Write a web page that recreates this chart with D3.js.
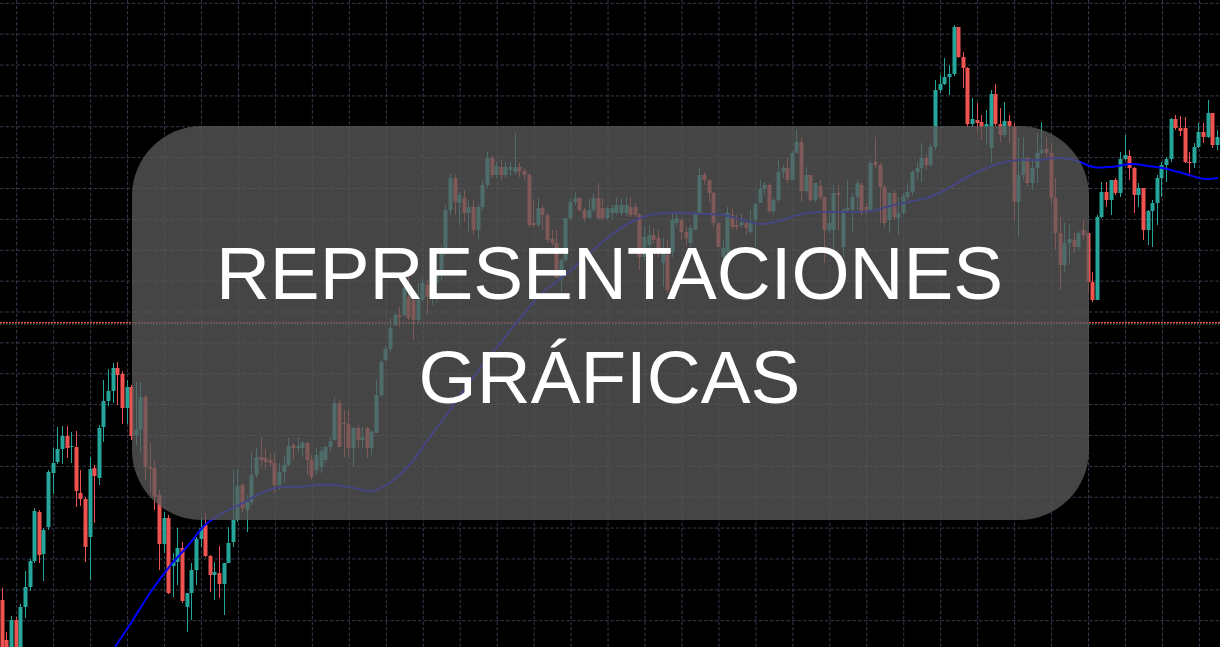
<!DOCTYPE html>
<html><head><meta charset="utf-8">
<script src="https://cdn.jsdelivr.net/npm/d3@7"></script>
<style>html,body{margin:0;padding:0;background:#000;overflow:hidden}</style>
</head><body><svg id="c" width="1220" height="647"></svg>
<script>
const openP = [
12400,12360,12348,12380,12352,12393,12413,12439,12488,12446,
12473,12527,12538,12551,12564,12553,12553,12507,12501,12463,
12532,12522,12573,12599,12609,12632,12626,12592,12613,12565,
12570,12603,12533,12532,12505,12456,12482,12434,12438,12452,
12393,12407,12430,12461,12475,12444,12425,12427,12416,12437,
12458,12480,12515,12490,12498,12525,12543,12542,12540,12537,
12515,12528,12535,12555,12552,12552,12557,12540,12530,12533,
12540,12553,12560,12597,12577,12576,12552,12572,12560,12572,
12552,12567,12605,12640,12651,12675,12685,12685,12703,12700,
12680,12700,12715,12703,12717,12725,12748,12790,12822,12797,
12802,12787,12793,12770,12793,12815,12842,12825,12833,12825,
12830,12828,12833,12829,12825,12777,12775,12792,12785,12761,
12757,12722,12740,12782,12798,12802,12790,12782,12790,12802,
12792,12782,12787,12787,12787,12787,12793,12793,12785,12743,
12755,12765,12762,12737,12745,12748,12777,12780,12768,12757,
12770,12787,12825,12820,12807,12777,12743,12748,12785,12775,
12775,12777,12768,12780,12797,12811,12815,12789,12800,12828,
12832,12820,12847,12858,12809,12825,12800,12814,12803,12770,
12770,12807,12753,12790,12790,12803,12815,12793,12790,12838,
12835,12813,12780,12807,12782,12787,12803,12808,12828,12832,
12842,12835,12853,12910,12916,12923,12926,12973,12943,12932,
12876,12880,12878,12873,12852,12906,12876,12865,12879,12873,
12798,12825,12842,12817,12832,12847,12851,12847,12802,12767,
12735,12757,12760,12753,12770,12767,12718,12700,12783,12808,
12800,12820,12807,12841,12844,12832,12805,12812,12770,12789,
12797,12822,12835,12841,12881,12872,12872,12838,12837,12853,
12868,12863,12887,12855];
const highP = [
12412,12368,12384,12383,12396,12429,12441,12492,12490,12472,
12530,12552,12573,12574,12574,12568,12569,12530,12503,12543,
12535,12575,12620,12631,12637,12638,12629,12620,12615,12618,
12618,12605,12557,12540,12510,12488,12485,12447,12472,12458,
12407,12437,12463,12483,12487,12445,12438,12454,12437,12473,
12530,12530,12517,12505,12548,12552,12563,12552,12547,12547,
12537,12544,12562,12557,12562,12559,12558,12545,12552,12553,
12554,12563,12603,12600,12590,12590,12573,12575,12573,12573,
12570,12620,12640,12654,12682,12687,12693,12722,12724,12703,
12717,12722,12720,12730,12730,12755,12795,12827,12825,12808,
12810,12800,12800,12795,12820,12848,12844,12838,12840,12838,
12838,12867,12837,12832,12827,12800,12802,12795,12787,12770,
12770,12742,12782,12802,12808,12803,12792,12802,12807,12817,
12802,12793,12795,12803,12801,12803,12803,12797,12787,12773,
12775,12772,12770,12762,12760,12787,12788,12782,12773,12775,
12788,12832,12828,12820,12808,12777,12760,12793,12792,12785,
12787,12778,12790,12797,12820,12818,12817,12802,12840,12835,
12842,12849,12870,12862,12833,12825,12817,12820,12803,12787,
12815,12815,12792,12820,12807,12820,12818,12797,12840,12863,
12837,12815,12808,12810,12803,12807,12817,12830,12838,12857,
12845,12857,12920,12925,12942,12935,12975,12973,12948,12933,
12902,12897,12885,12890,12910,12916,12892,12898,12885,12877,
12863,12863,12844,12840,12867,12878,12863,12857,12822,12783,
12777,12775,12767,12769,12780,12767,12728,12785,12818,12818,
12820,12822,12848,12865,12850,12833,12817,12812,12790,12800,
12825,12838,12843,12882,12885,12884,12883,12848,12857,12877,
12877,12900,12887,12870];
const lowP = [
12345,12344,12344,12348,12350,12382,12409,12437,12437,12419,
12470,12506,12536,12536,12542,12537,12493,12494,12438,12420,
12477,12515,12558,12594,12597,12595,12576,12576,12560,12555,
12547,12520,12507,12490,12430,12447,12406,12403,12415,12397,
12368,12380,12415,12453,12443,12408,12400,12402,12385,12437,
12453,12478,12488,12468,12495,12522,12533,12530,12533,12507,
12510,12517,12534,12540,12547,12543,12525,12520,12525,12527,
12537,12548,12559,12553,12543,12543,12533,12552,12552,12542,
12545,12567,12603,12638,12648,12674,12673,12683,12680,12660,
12678,12698,12685,12695,12697,12720,12745,12785,12785,12775,
12778,12768,12765,12760,12790,12812,12822,12822,12820,12822,
12824,12825,12823,12820,12773,12773,12773,12770,12757,12755,
12722,12708,12738,12780,12795,12788,12778,12782,12788,12780,
12780,12780,12781,12785,12784,12784,12783,12783,12730,12740,
12750,12757,12743,12713,12707,12743,12773,12760,12755,12753,
12770,12787,12815,12798,12773,12753,12738,12745,12770,12770,
12772,12765,12767,12753,12797,12805,12787,12785,12798,12822,
12817,12820,12847,12798,12807,12798,12798,12800,12737,12767,
12743,12770,12743,12788,12768,12790,12785,12785,12788,12832,
12777,12773,12767,12780,12765,12785,12800,12805,12820,12818,
12830,12833,12850,12907,12915,12905,12924,12942,12912,12873,
12873,12867,12860,12855,12837,12874,12858,12863,12857,12780,
12763,12820,12813,12810,12817,12845,12840,12795,12750,12710,
12728,12737,12747,12750,12760,12707,12698,12700,12782,12793,
12785,12805,12803,12840,12820,12787,12793,12760,12755,12753,
12775,12803,12818,12838,12870,12864,12837,12827,12832,12852,
12857,12862,12852,12850];
const closeP = [
12350,12348,12380,12352,12393,12413,12439,12489,12445,12470,
12528,12537,12551,12564,12552,12554,12509,12501,12453,12531,
12524,12572,12599,12609,12632,12625,12592,12613,12564,12570,
12603,12533,12531,12503,12456,12482,12407,12438,12452,12399,
12407,12430,12461,12472,12444,12425,12428,12416,12437,12457,
12480,12514,12492,12498,12525,12543,12540,12538,12537,12515,
12528,12535,12554,12552,12554,12557,12540,12523,12545,12549,
12553,12559,12597,12553,12576,12552,12572,12560,12563,12552,
12568,12605,12638,12651,12672,12685,12683,12712,12682,12680,
12700,12717,12703,12718,12725,12750,12790,12822,12798,12805,
12787,12793,12770,12793,12815,12842,12825,12834,12825,12833,
12833,12833,12829,12825,12775,12775,12792,12785,12760,12757,
12722,12740,12782,12798,12802,12790,12782,12790,12802,12782,
12782,12792,12792,12795,12795,12795,12785,12785,12743,12763,
12765,12760,12752,12747,12710,12780,12782,12768,12762,12772,
12787,12825,12820,12807,12777,12753,12752,12787,12773,12773,
12778,12772,12778,12796,12811,12815,12789,12800,12828,12832,
12820,12847,12858,12809,12825,12800,12817,12803,12770,12777,
12807,12805,12790,12792,12803,12817,12787,12788,12837,12835,
12813,12777,12807,12783,12787,12804,12808,12828,12832,12842,
12835,12853,12910,12916,12923,12926,12973,12943,12932,12876,
12881,12877,12873,12876,12906,12876,12865,12879,12874,12798,
12825,12842,12817,12832,12847,12850,12847,12802,12767,12735,
12757,12761,12753,12767,12765,12718,12700,12783,12808,12800,
12820,12807,12841,12845,12832,12805,12812,12770,12789,12797,
12822,12835,12841,12881,12872,12869,12838,12837,12853,12868,
12863,12887,12855,12863];
const maIndex = [24,28,32,36,40,44,48,52,56,60,64,68,72,76,80,84,88,92,96,100,104,108,112,116,120,124,128,132,136,140,144,148,152,156,160,164,168,172,176,180,184,188,192,196,200,204,208,212,216,220,224,228,232,236,240,244,248,252,256,260,263];
const maValue = [12351,12379,12408,12433,12454,12476,12488,12497,12507,12513,12513,12515,12515,12512,12509,12518,12535,12560,12585,12611,12636,12659,12682,12704,12719,12734,12751,12766,12778,12785,12787,12787,12786,12785,12780,12776,12779,12785,12788,12788,12788,12789,12794,12798,12802,12810,12821,12830,12837,12840,12840,12842,12840,12833,12833,12836,12834,12831,12826,12821,12822];
const bidPrice = 12677.2;
const askPrice = 12675.8;
const titleLines = ["REPRESENTACIONES", "GRÁFICAS"];

const W = 1220, H = 647;
const svg = d3.select("#c");
const x = d3.scaleLinear().domain([0, openP.length - 1]).range([2.84, 1217.9]);
const y = d3.scaleLinear().domain([12353, 13000]).range([H, 0]);

svg.append("rect").attr("width", W).attr("height", H).attr("fill", "#000");

// grid
const gridPrices = d3.range(0, 21).map(k => 12996.7 - 30.87 * k);
const gridIdx = d3.range(3, openP.length, 8);
const g = svg.append("g").attr("stroke", "#343a4c").attr("stroke-width", 1).attr("stroke-dasharray", "3.5,2");
g.selectAll("line.h").data(gridPrices).join("line").attr("class", "h")
  .attr("x1", 0).attr("x2", W).attr("y1", d => y(d)).attr("y2", d => y(d));
g.selectAll("line.v").data(gridIdx).join("line").attr("class", "v")
  .attr("y1", 0).attr("y2", H).attr("x1", d => x(d)).attr("x2", d => x(d));

// price lines
svg.append("line").attr("x1", 0).attr("x2", W).attr("y1", y(bidPrice)).attr("y2", y(bidPrice))
  .attr("stroke", "#ef5350").attr("stroke-width", 1.5).attr("stroke-dasharray", "2,1");
svg.append("line").attr("x1", 0).attr("x2", W).attr("y1", y(askPrice)).attr("y2", y(askPrice))
  .attr("stroke", "#26a69a").attr("stroke-width", 0.9).attr("stroke-dasharray", "1,2");

// candles
const data = openP.map((o, i) => ({i, o, h: highP[i], l: lowP[i], c: closeP[i]}));
const col = d => d.c >= d.o ? "#26a69a" : "#ef5350";
const cg = svg.append("g");
const cs = cg.selectAll("g").data(data).join("g");
cs.append("rect")
  .attr("x", d => Math.round(x(d.i)) - 1).attr("width", 1)
  .attr("y", d => y(Math.max(d.h, d.o, d.c)))
  .attr("height", d => y(Math.min(d.l, d.o, d.c)) - y(Math.max(d.h, d.o, d.c)))
  .attr("fill", col);
cs.append("rect")
  .attr("x", d => Math.round(x(d.i)) - 2.5).attr("width", 4)
  .attr("y", d => y(Math.max(d.o, d.c)))
  .attr("height", d => Math.max(1, Math.abs(y(d.o) - y(d.c))))
  .attr("fill", col);

// moving average
const line = d3.line().x((d, k) => x(maIndex[k])).y(d => y(d)).curve(d3.curveCatmullRom);
svg.append("path").attr("d", line(maValue)).attr("fill", "none")
  .attr("stroke", "#0000ff").attr("stroke-width", 2);

// overlay box
svg.append("rect").attr("x", 132).attr("y", 126).attr("width", 957).attr("height", 394)
  .attr("rx", 70).attr("ry", 70).attr("fill", "rgb(91,91,91)").attr("fill-opacity", 0.76);

svg.selectAll("text.t").data(titleLines).join("text").attr("class", "t")
  .attr("x", 609.5).attr("y", (d, k) => 299 + k * 104)
  .attr("text-anchor", "middle")
  .attr("font-family", "'Liberation Sans', Arial, sans-serif")
  .attr("font-size", 74.7).attr("fill", "#ffffff")
  .text(d => d);
</script>
</body></html>
